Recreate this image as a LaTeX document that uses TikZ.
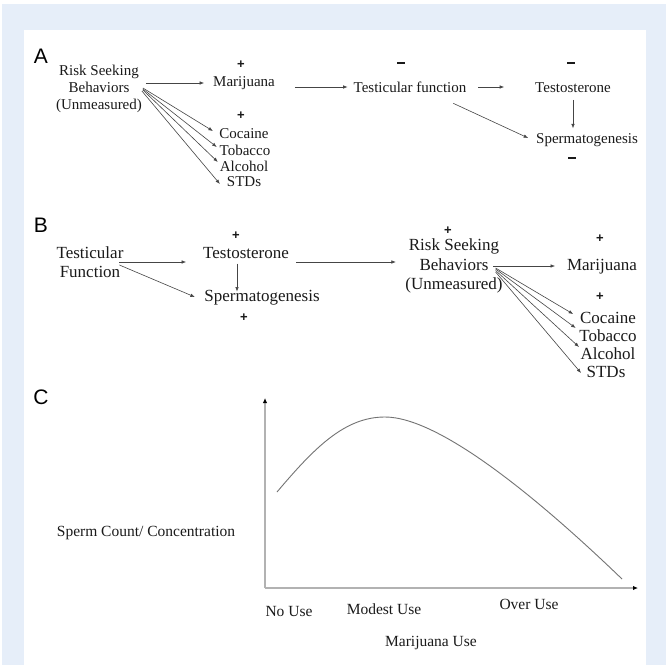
\documentclass[tikz,border=0pt]{standalone}
\usepackage{fontspec}
\setmainfont{Liberation Serif}
\newfontfamily\labfont{Liberation Sans}
\usetikzlibrary{arrows.meta}
\definecolor{bgblue}{HTML}{E6EEF9}
\definecolor{ink}{HTML}{1A1A1A}
\definecolor{lin}{HTML}{454545}
\newcommand{\minussign}{\rule{8pt}{1.8pt}}
\begin{document}
\begin{tikzpicture}[x=1pt,y=-1pt,
  txtA/.style={inner sep=0pt,outer sep=0pt,font=\fontsize{15}{17}\selectfont,text=ink,align=center},
  txtB/.style={inner sep=0pt,outer sep=0pt,font=\fontsize{17}{19.5}\selectfont,text=ink,align=center},
  txtC/.style={inner sep=0pt,outer sep=0pt,font=\fontsize{15.5}{18}\selectfont,text=ink},
  signmark/.style={inner sep=0pt,outer sep=0pt,font=\labfont\bfseries\fontsize{13}{13}\selectfont,text=ink},
  panellabel/.style={inner sep=0pt,outer sep=0pt,font=\labfont\fontsize{21}{21}\selectfont,text=black},
  arr/.style={draw=lin,line width=0.6pt,-{Latex[length=4.5pt,width=3.5pt]}},
  axisline/.style={draw=gray!60,line width=1.6pt,-{Latex[length=5pt,width=4.5pt,color=black]}},
  curveline/.style={draw=gray!90!black,line width=0.9pt},
]
% background
\fill[white] (0,0) rectangle (666,666);
\fill[bgblue] (2,4) rectangle (666,665);
\fill[white] (24,30) rectangle (646,665);
\useasboundingbox (0,0) rectangle (666,666);

% ---------------- Panel A
\node[panellabel] (labA) at (41,56) {A};
\node[txtA] (rsbA) at (99,89) {Risk Seeking\\Behaviors\\(Unmeasured)};
\node[signmark] (pmA) at (241,65) {+};
\node[txtA] (marA) at (244,83) {Marijuana};
\node[signmark] (pcA) at (241,116) {+};
\node[txtA] (cocA) at (244,134) {Cocaine};
\node[txtA] (tobA) at (245,150) {Tobacco};
\node[txtA] (alcA) at (244,166) {Alcohol};
\node[txtA] (stdA) at (244,182) {STDs};
\node[signmark] (mtfA) at (401,63) {\minussign};
\node[txtA] (tfA) at (410,87) {Testicular function};
\node[signmark] (mtsA) at (571,63) {\minussign};
\node[txtA] (tstA) at (573,88) {Testosterone};
\node[txtA] (spgA) at (587,140) {Spermatogenesis};
\node[signmark] (mspA) at (572,158) {\minussign};

\draw[arr] ([xshift=4pt]rsbA.east |- marA) -- ([xshift=-9pt]marA.west);
\draw[arr] ([xshift=1pt,yshift=1pt]rsbA.east) -- ([xshift=-6.5pt,yshift=3pt]cocA.west);
\draw[arr] ([xshift=1pt,yshift=0pt]rsbA.east) -- ([xshift=-3pt,yshift=3pt]tobA.west);
\draw[arr] ([xshift=1pt,yshift=-1pt]rsbA.east) -- ([xshift=-2pt,yshift=4pt]alcA.west);
\draw[arr] ([xshift=0pt,yshift=-2pt]rsbA.east) -- ([xshift=-7pt,yshift=-2pt]stdA.west);
\draw[arr] ([xshift=20pt]marA.east |- tfA) -- ([xshift=-6pt]tfA.west);
\draw[arr] ([xshift=12pt]tfA.east) -- ([xshift=-31pt]tstA.west |- tfA.east);
\draw[arr] ([yshift=-7pt]tstA.south) -- ([yshift=5pt]tstA.south |- spgA.north);
\draw[arr] ([xshift=-13pt,yshift=-11pt]tfA.south east) -- ([xshift=-8pt,yshift=2pt]spgA.west);

% ---------------- Panel B
\node[panellabel] (labB) at (41,225) {B};
\node[txtB] (tfB) at (90,262) {Testicular\\Function};
\node[signmark] (ptsB) at (236,236) {+};
\node[txtB] (tstB) at (246,253) {Testosterone};
\node[txtB] (spgB) at (262,298) {Spermatogenesis};
\node[signmark] (pspB) at (244,318) {+};
\node[signmark] (prsB) at (448,231) {+};
\node[txtB] (rsbB) at (454,266) {Risk Seeking\\Behaviors\\(Unmeasured)};
\node[signmark] (pmB) at (600,239) {+};
\node[txtB] (marB) at (602,267) {Marijuana};
\node[signmark] (pcB) at (600,297) {+};
\node[txtB] (cocB) at (608,318) {Cocaine};
\node[txtB] (tobB) at (608,336) {Tobacco};
\node[txtB] (alcB) at (608,354) {Alcohol};
\node[txtB] (stdB) at (606,372) {STDs};

\draw[arr] ([xshift=-4pt]tfB.east) -- ([xshift=-17pt]tstB.west |- tfB.east);
\draw[arr] ([xshift=-4pt,yshift=-3pt]tfB.east) -- ([xshift=-9.5pt,yshift=1pt]spgB.west);
\draw[arr] ([xshift=-9pt,yshift=-5pt]tstB.south) -- ([xshift=-9pt,yshift=-1pt]tstB.south |- spgB.north);
\draw[arr] ([xshift=7.5pt,yshift=-9pt]tstB.east) -- ([xshift=-9.5pt,yshift=4pt]rsbB.west);
\draw[arr] ([xshift=-9.6pt]rsbB.east) -- ([xshift=-12pt]marB.west |- rsbB.east);
\draw[arr] ([xshift=-7pt,yshift=-2pt]rsbB.east) -- ([xshift=-7pt,yshift=4pt]cocB.west);
\draw[arr] ([xshift=-7pt,yshift=-3pt]rsbB.east) -- ([xshift=-3.7pt,yshift=8pt]tobB.west);
\draw[arr] ([xshift=-7pt,yshift=-4.5pt]rsbB.east) -- ([xshift=-1.6pt,yshift=7pt]alcB.west);
\draw[arr] ([xshift=-7pt,yshift=-6pt]rsbB.east) -- ([xshift=-5.6pt,yshift=-1pt]stdB.west);

% ---------------- Panel C
\node[panellabel] (labC) at (41,397) {C};
\coordinate (orig) at (265,588);
\coordinate (ytop) at (265,398);
\coordinate (xend) at (638,588);
\draw[axisline] (orig) -- (ytop);
\draw[axisline] (orig) -- (xend);
\draw[curveline] (277,492) .. controls (315,447) and (345,417) .. (385,417)
  .. controls (440,417) and (540,500) .. (622,579);
\node[txtC] (ylab) at (146,533) {Sperm Count/ Concentration};
\node[txtC] (nouse) at (289,611) {No Use};
\node[txtC] (modest) at (384,609) {Modest Use};
\node[txtC] (over) at (529,604) {Over Use};
\node[txtC] (xlab) at (431,643) {Marijuana Use};
\end{tikzpicture}
\end{document}
